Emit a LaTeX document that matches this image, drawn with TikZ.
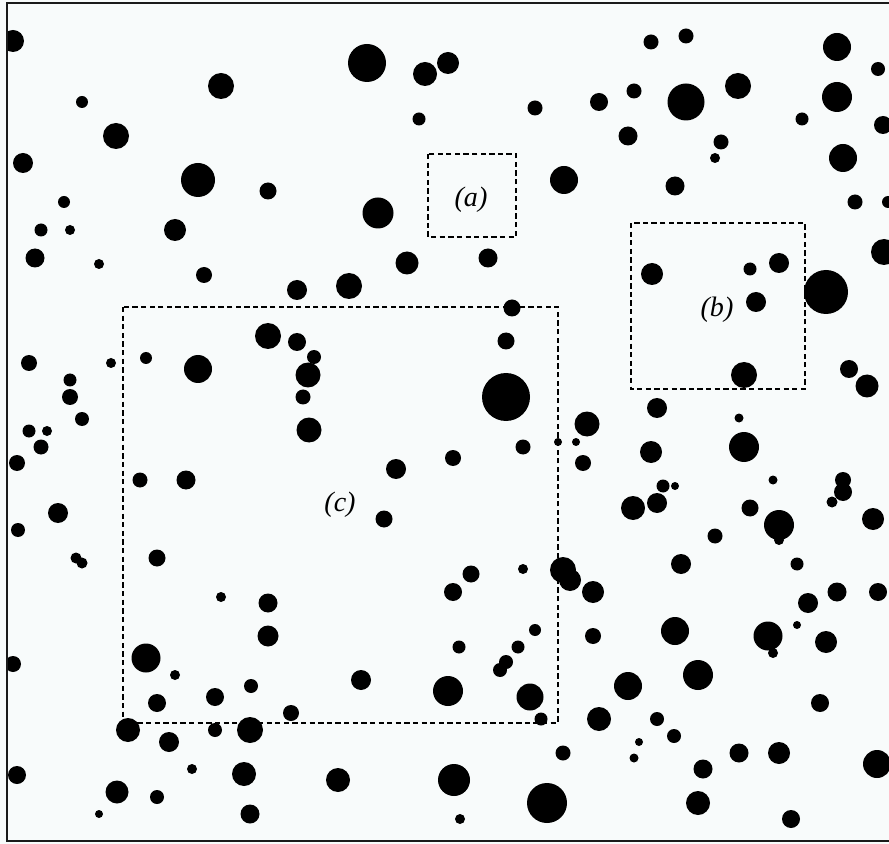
\documentclass[tikz,border=0pt]{standalone}
\usepackage{fontspec}
\setmainfont{Liberation Serif}
\usepackage{xcolor}
\definecolor{cInk}{HTML}{000000}
\definecolor{cFrame}{HTML}{1A1A1A}
\definecolor{cPaper}{HTML}{F8FBFB}
\usepackage{tikz}
\tikzset{
  particle/.style={fill=cInk},
  frame-line/.style={draw=cFrame,line width=1.2pt},
  zone-box/.style={draw=cInk,line width=0.6pt,dash pattern=on 3pt off 1.9pt},
  % labels of the three zoomed regions
  zone-label/.style={font=\fontsize{16}{18}\selectfont\itshape,inner sep=0pt},
}

\begin{document}
\begin{tikzpicture}[x=0.02cm,y=-0.02cm]
  \useasboundingbox (0,0) rectangle (889,844);
  \fill[cPaper] (0,0) rectangle (889,844);
  \begin{scope}
    \clip (7,3) rectangle (889,841);
    \foreach \x/\y/\r in {
      13/41/11, 221/86/13, 82/102/6, 116/136/13, 23/163/10, 198/180/17,
      268/191/8.5, 64/202/6, 41/230/6.5, 70/230/5, 175/230/11, 35/258/9.5,
      99/264/5, 204/275/8, 297/290/10,
      367/63/19, 425/74/12, 448/63/11, 419/119/6.5, 535/108/7.5, 564/180/14,
      378/213/15.5, 407/263/11.5, 488/258/9.5, 349/286/13,
      651/42/7.5, 686/36/7.5, 837/47/14, 878/69/7, 599/102/9, 634/91/7.5,
      686/102/18.5, 738/86/13, 837/97/15, 802/119/6.5, 883/125/9, 628/136/9.5,
      721/142/7.5, 715/158/5, 843/158/14, 675/186/9.5, 855/202/7.5, 888/202/6,
      884/252/13, 652/274/11, 750/269/6.5, 779/263/10, 826/292/22,
      756/302/10, 744/375/13, 849/369/9, 867/386/11.5, 657/408/10, 587/424/12.5,
      739/418/4.5, 744/447/15, 651/452/11, 583/463/8, 663/486/6.5, 675/486/4,
      773/480/4.5, 843/480/8, 843/492/9, 832/502/5.5, 633/508/12, 657/503/10,
      750/508/8.5, 779/525/15, 779/540/5, 873/519/11, 715/536/7.5, 681/564/10,
      797/564/6.5,
      593/592/11, 808/603/10, 837/592/9.5, 878/592/9, 593/636/8, 675/631/14,
      768/636/14.5, 773/653/5, 797/625/4, 826/642/11, 698/675/15, 628/686/14,
      820/703/9, 599/719/12, 657/719/7, 674/736/7, 639/742/4, 634/758/4.5,
      739/753/9.5, 779/753/11, 877/764/14, 703/769/9.5, 698/803/12, 791/819/9,
      268/336/13, 297/342/9, 29/363/8, 111/363/5, 146/358/6, 198/369/14,
      70/380/6.5, 70/397/8, 82/419/7, 29/431/6.5, 47/431/5, 41/447/7.5,
      17/463/8, 140/480/7.5, 186/480/9.5, 58/513/10, 18/530/7, 76/558/5.5,
      82/563/5.5, 157/558/8.5,
      512/308/8.5, 314/357/7, 308/375/12.5, 303/397/7.5, 309/430/12.5,
      506/341/8.5, 506/397/24, 523/447/7.5, 558/442/4, 576/442/4, 453/458/8,
      396/469/10, 384/519/8.5,
      221/597/5, 268/603/9.5, 268/636/10.5, 13/664/8, 146/658/14.5, 175/675/5,
      157/703/9, 215/697/9, 251/686/7, 291/713/8, 128/730/12, 169/742/10,
      215/730/7, 250/730/13, 192/769/5, 244/774/12, 17/775/9, 117/792/11.5,
      157/797/7, 99/814/4, 250/814/9.5,
      471/574/8.5, 453/592/9, 523/569/5, 563/570/13, 570/580/11, 535/630/6,
      459/647/6.5, 518/647/6.5, 506/662/7, 500/670/7, 361/680/10, 448/691/15,
      530/697/13.5, 541/719/6.5, 563/753/7.5, 338/780/12, 454/780/16,
      547/803/20, 460/819/5}
      \fill[particle] (\x,\y) circle[radius=\r];
  \end{scope}
  \draw[frame-line] (889,3) -- (7,3) -- (7,841) -- (889,841);
  \draw[zone-box] (428,154) rectangle (516,237);
  \draw[zone-box] (631,223) rectangle (805,389);
  \draw[zone-box] (123,307) rectangle (558,723);
  \node[zone-label] (lab-a) at (471,200) {(a)};
  \node[zone-label] (lab-b) at (717,310) {(b)};
  \node[zone-label] (lab-c) at (340,505) {(c)};
\end{tikzpicture}
\end{document}
